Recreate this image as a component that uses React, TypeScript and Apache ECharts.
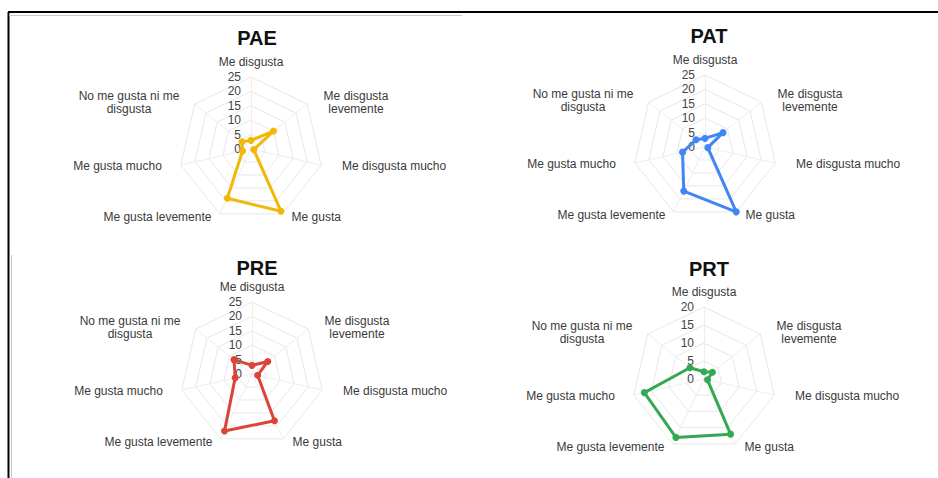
import React, { useEffect, useRef } from "react";
import * as echarts from "echarts";

// Categories, listed clockwise starting at the top axis
const categories = [
  "Me disgusta",
  "Me disgusta levemente",
  "Me disgusta mucho",
  "Me gusta",
  "Me gusta levemente",
  "Me gusta mucho",
  "No me gusta ni me disgusta",
];
const categoryLabels = [
  "Me disgusta",
  "Me disgusta\nlevemente",
  "Me disgusta mucho",
  "Me gusta",
  "Me gusta levemente",
  "Me gusta mucho",
  "No me gusta ni me\ndisgusta",
];

const groupNames = ["PAE", "PAT", "PRE", "PRT"];
const paeValues = [3, 10, 1, 24, 19, 3, 4];
const patValues = [3, 8, 1, 25, 17, 8, 4];
const preValues = [3, 7, 2, 18, 22, 6, 8];
const prtValues = [2, 3, 1, 17, 18, 17, 5];
const groupMax = [25, 25, 25, 20];
const tickStep = 5;

const groupValues = [paeValues, patValues, preValues, prtValues];
const groupColors = ["#F2B807", "#4285F4", "#DB4437", "#34A853"];

// layout
const centers: [number, number][] = [
  [251, 149],
  [705, 147],
  [252, 374],
  [704, 379],
];
const titlePos = [
  [252, 23],
  [704, 21],
  [252, 253],
  [704, 254],
];
const RADIUS = 72;
const FONT = 'Arial, "Liberation Sans", sans-serif';
// extra gap (px) between axis end and its name, per category (clockwise)
const namePads = [3, 14, 18, 8, 7, 16, 13];

// ECharts lays indicators out counter-clockwise; reorder to get a clockwise layout
const order = [0, 6, 5, 4, 3, 2, 1];

export default function App() {
  const ref = useRef<HTMLDivElement>(null);

  useEffect(() => {
    if (!ref.current) return;
    const chart = echarts.init(ref.current, null, { renderer: "svg" });

    const rich: Record<string, any> = {};
    namePads.forEach((p, i) => {
      const rightSide = i >= 1 && i <= 3;
      rich["p" + i] = {
        fontSize: 12,
        fontFamily: FONT,
        color: "#3a3a3a",
        lineHeight: 13,
        align: "center",
        padding: i === 0 ? [0, 0, p, 0] : rightSide ? [0, 0, 0, p] : [0, p, 0, 0],
      };
    });

    const radars = groupNames.map((_, g) => ({
      center: centers[g],
      radius: RADIUS,
      startAngle: 90,
      shape: "polygon",
      splitNumber: groupMax[g] / tickStep,
      nameGap: 3,
      indicator: order.map((ci, k) => ({
        name: categories[ci],
        min: 0,
        max: groupMax[g],
        ...(k === 0 ? { axisLabel: { show: true } } : {}),
      })),
      axisName: {
        fontSize: 12,
        fontFamily: FONT,
        color: "#3a3a3a",
        formatter: (name: string) => {
          const ci = categories.indexOf(name);
          return categoryLabels[ci]
            .split("\n")
            .map((l) => `{p${ci}|${l}}`)
            .join("\n");
        },
        rich,
      },
      axisLine: { lineStyle: { color: "#eeeeee", width: 1 } },
      splitLine: { lineStyle: { color: "#e8e8e8", width: 1 } },
      splitArea: { show: false },
      axisTick: { show: false },
      axisLabel: {
        show: false,
        color: "#444444",
        fontSize: 12,
        fontFamily: FONT,
        margin: 10,
      },
    }));

    const series = groupNames.map((name, g) => ({
      type: "radar",
      radarIndex: g,
      symbol: "circle",
      symbolSize: 7,
      lineStyle: { width: 3, color: groupColors[g] },
      itemStyle: { color: groupColors[g] },
      data: [{ name, value: order.map((ci) => groupValues[g][ci]) }],
    }));

    const titles = groupNames.map((name, g) => ({
      text: name,
      left: titlePos[g][0],
      top: titlePos[g][1],
      textAlign: "center",
      textStyle: {
        fontSize: 20,
        fontWeight: "bold",
        fontFamily: FONT,
        color: "#111111",
      },
    }));

    chart.setOption({
      animation: false,
      backgroundColor: "#ffffff",
      title: titles,
      radar: radars,
      series,
      graphic: [
        { type: "line", shape: { x1: 8, y1: 12, x2: 938, y2: 12 }, style: { stroke: "#000", lineWidth: 2 } },
        { type: "line", shape: { x1: 8.5, y1: 12, x2: 8.5, y2: 478 }, style: { stroke: "#000", lineWidth: 2 } },
        { type: "line", shape: { x1: 9, y1: 15.5, x2: 462, y2: 15.5 }, style: { stroke: "#c8c8c8", lineWidth: 1 } },
        { type: "line", shape: { x1: 11.5, y1: 255, x2: 11.5, y2: 478 }, style: { stroke: "#c8c8c8", lineWidth: 1 } },
      ],
    });

    return () => chart.dispose();
  }, []);

  return (
    <div
      ref={ref}
      style={{ position: "absolute", left: 0, top: 0, width: 938, height: 478 }}
    />
  );
}
